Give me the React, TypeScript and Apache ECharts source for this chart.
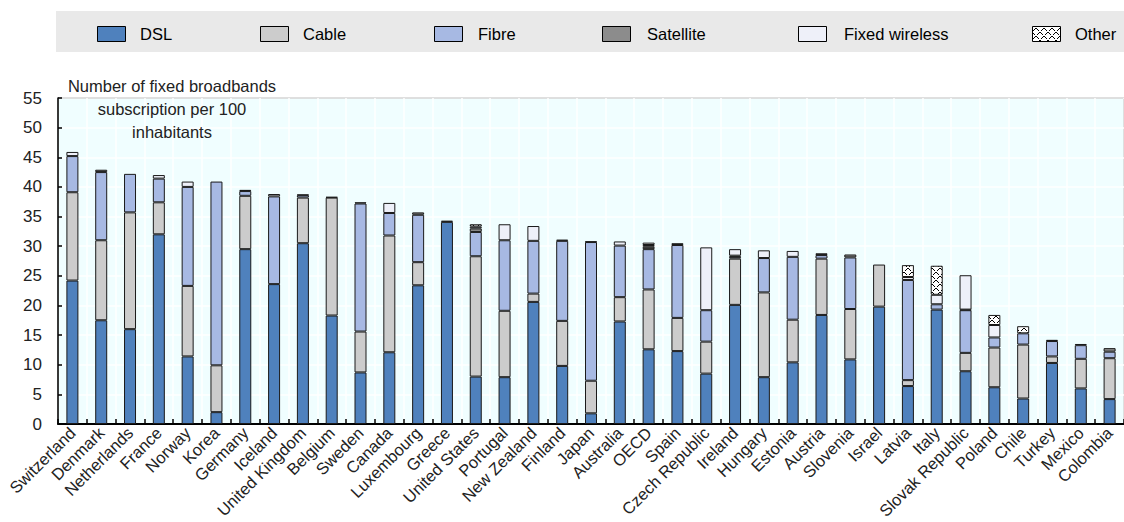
import React, { useEffect, useRef } from "react";
import * as echarts from "echarts";

const categories = [
  "Switzerland", "Denmark", "Netherlands", "France", "Norway", "Korea", "Germany", "Iceland",
  "United Kingdom", "Belgium", "Sweden", "Canada", "Luxembourg", "Greece", "United States",
  "Portugal", "New Zealand", "Finland", "Japan", "Australia", "OECD", "Spain", "Czech Republic",
  "Ireland", "Hungary", "Estonia", "Austria", "Slovenia", "Israel", "Latvia", "Italy",
  "Slovak Republic", "Poland", "Chile", "Turkey", "Mexico", "Colombia",
];

const dsl = [24.2, 17.5, 16.0, 32.0, 11.4, 2.0, 29.5, 23.6, 30.5, 18.3, 8.7, 12.1, 23.4, 34.1, 8.0, 7.9, 20.6, 9.8, 1.8, 17.3, 12.6, 12.3, 8.5, 20.1, 7.9, 10.4, 18.4, 10.9, 19.8, 6.4, 19.3, 8.9, 6.2, 4.3, 10.3, 6.0, 4.2];
const cable = [14.9, 13.5, 19.7, 5.4, 11.9, 7.9, 9.0, 0, 7.7, 19.9, 6.9, 19.7, 3.9, 0, 20.3, 11.2, 1.4, 7.6, 5.5, 4.1, 10.1, 5.6, 5.4, 7.8, 14.3, 7.2, 9.5, 8.5, 7.1, 1.0, 0, 3.1, 6.7, 9.1, 1.1, 5.0, 6.9];
const fibre = [6.1, 11.5, 6.5, 4.0, 16.7, 31.0, 0.8, 14.8, 0.4, 0, 21.6, 3.8, 8.0, 0, 4.1, 11.9, 8.9, 13.5, 23.4, 8.7, 6.8, 12.3, 5.3, 0.3, 5.8, 10.6, 0.6, 8.7, 0, 16.9, 0.9, 7.2, 1.7, 1.9, 2.6, 2.3, 1.1];
const satellite = [0, 0.4, 0, 0, 0, 0, 0.2, 0, 0.1, 0.1, 0.2, 0, 0.4, 0.2, 0.6, 0, 0, 0.2, 0.1, 0, 0.4, 0.3, 0, 0.2, 0, 0, 0.3, 0.5, 0, 0, 0, 0.1, 0, 0, 0.2, 0.2, 0.6];
const fixedWireless = [0.7, 0, 0, 0.6, 0.9, 0, 0, 0.4, 0, 0, 0, 1.7, 0, 0, 0.3, 2.7, 2.5, 0, 0, 0.7, 0.3, 0, 10.6, 1.1, 1.3, 1.0, 0, 0, 0, 0.5, 1.6, 5.8, 2.1, 0, 0, 0, 0];
const other = [0, 0, 0, 0, 0, 0, 0, 0, 0, 0, 0, 0, 0, 0, 0.4, 0, 0, 0, 0, 0, 0.4, 0, 0, 0, 0, 0, 0, 0, 0, 2.0, 4.9, 0, 1.7, 1.2, 0, 0, 0];

const seriesNames = ["DSL", "Cable", "Fibre", "Satellite", "Fixed wireless", "Other"];
const seriesColors = ["#4f81bd", "#cccccc", "#a7b9e3", "#8c8c8c", "#eef0f9", "pattern"];
const yAxisTitle = "Number of fixed broadbands\nsubscription per 100\ninhabitants";

function makePattern(): HTMLCanvasElement {
  const c = document.createElement("canvas");
  c.width = 8;
  c.height = 8;
  const ctx = c.getContext("2d")!;
  ctx.fillStyle = "#ffffff";
  ctx.fillRect(0, 0, 8, 8);
  ctx.fillStyle = "#000000";
  for (let i = 0; i < 8; i++) {
    if (i % 4 !== 3) {
      ctx.fillRect(i, i, 1, 1);
      ctx.fillRect(7 - i, i, 1, 1);
    }
  }
  return c;
}

export default function App() {
  const ref = useRef<HTMLDivElement>(null);

  useEffect(() => {
    if (!ref.current) return;
    const chart = echarts.init(ref.current, undefined, { renderer: "svg" });
    const patternCanvas = makePattern();
    const pattern = { image: patternCanvas, repeat: "repeat" } as any;
    const dataSets = [dsl, cable, fibre, satellite, fixedWireless, other];

    const series = seriesNames.map((name, i) => ({
      name,
      type: "bar",
      stack: "total",
      barWidth: 12,
      data: dataSets[i].map((v) => (v === 0 ? "-" : v)),
      itemStyle: {
        color: seriesColors[i] === "pattern" ? pattern : seriesColors[i],
        borderColor: "#1a1a1a",
        borderWidth: 1,
      },
      emphasis: { disabled: true },
    }));

    const swatchX = [97, 260, 434, 602, 798, 1032];
    const textX = [140, 303, 478, 647, 844, 1075];
    const legendEls: any[] = [
      {
        type: "rect",
        shape: { x: 56, y: 11, width: 1080, height: 41 },
        style: { fill: "#e9e9e9" },
        silent: true,
      },
    ];
    seriesNames.forEach((name, i) => {
      legendEls.push({
        type: "rect",
        shape: { x: swatchX[i] + 0.5, y: 26.5, width: 28, height: 15 },
        style: {
          fill: seriesColors[i] === "pattern" ? pattern : seriesColors[i],
          stroke: "#000",
          lineWidth: 1,
        },
      });
      legendEls.push({
        type: "text",
        x: textX[i],
        y: 34,
        style: {
          text: name,
          fill: "#000",
          font: "16.5px Arial, 'Liberation Sans', sans-serif",
          textVerticalAlign: "middle",
          verticalAlign: "middle",
        },
      });
    });
    legendEls.push({
      type: "text",
      x: 172,
      y: 75,
      style: {
        text: yAxisTitle,
        fill: "#222",
        font: "16.5px Arial, 'Liberation Sans', sans-serif",
        align: "center",
        textAlign: "center",
        lineHeight: 22.6,
      },
      z: 100,
    });

    chart.setOption({
      animation: false,
      backgroundColor: "#ffffff",
      grid: {
        left: 58,
        top: 98,
        width: 1077,
        height: 326,
        show: true,
        backgroundColor: "#f0feff",
        borderColor: "#000",
        borderWidth: 1,
      },
      xAxis: {
        type: "category",
        data: categories,
        boundaryGap: true,
        axisLine: { show: true, lineStyle: { color: "#000", width: 2 } },
        axisTick: { show: true, inside: true, length: 5, alignWithLabel: false, interval: 0, lineStyle: { color: "#000", width: 1.5 } },
        splitLine: { show: true, interval: 0, lineStyle: { color: "#ffffff", width: 1.5 } },
        axisLabel: {
          interval: 0,
          rotate: 45,
          margin: 6,
          color: "#222",
          fontSize: 16.5,
          fontFamily: "Arial, 'Liberation Sans', sans-serif",
        },
      },
      yAxis: {
        type: "value",
        min: 0,
        max: 55,
        interval: 5,
        axisLine: { show: true, lineStyle: { color: "#000", width: 1.5 } },
        axisTick: { show: true, inside: true, length: 4, lineStyle: { color: "#000", width: 1.5 } },
        splitLine: { show: true, lineStyle: { color: "#ffffff", width: 1.5 } },
        axisLabel: {
          margin: 16,
          color: "#222",
          fontSize: 17,
          fontFamily: "Arial, 'Liberation Sans', sans-serif",
        },
      },
      series,
      graphic: legendEls,
    } as any);

    return () => chart.dispose();
  }, []);

  return (
    <div style={{ position: "fixed", left: 0, top: 0, width: 1124, height: 522, overflow: "hidden", background: "#fff" }}>
      <div ref={ref} style={{ width: 1124, height: 522 }} />
    </div>
  );
}
